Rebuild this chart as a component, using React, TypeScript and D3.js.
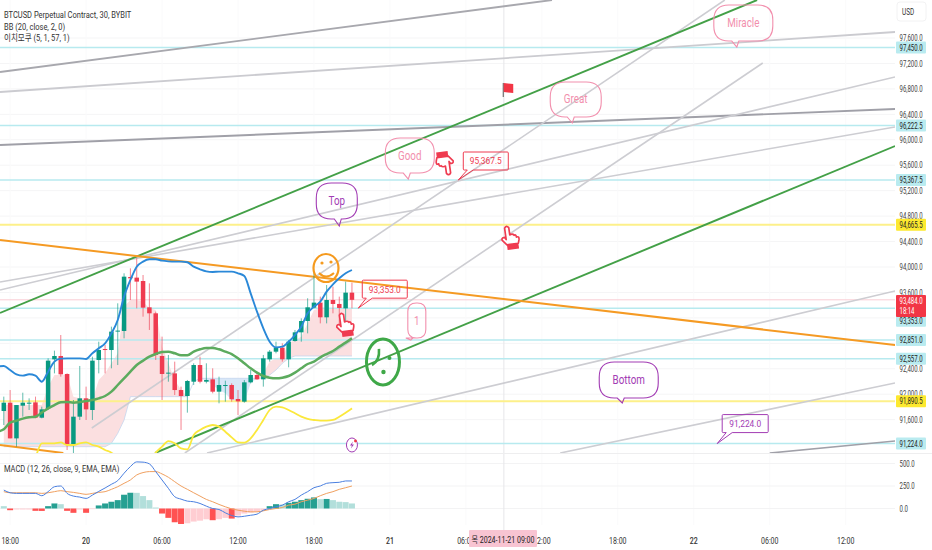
import React from "react";
import * as d3 from "d3";

const W = 932, H = 550;
const paneRight = 895, paneBottom = 453;

// [open, high, low, close] per 30-minute bar
const candles: number[][] = [
[91736,91962,91516,91867],[91867,92066,91306,91306],[91306,91830,91175,91830],[91820,92024,91647,91867],[91856,91935,91752,91867],
[91872,91962,91621,91631],[91631,91804,91621,91762],[91778,92564,91752,92528],[92549,92685,92328,92601],[92601,92931,92276,92313],
[92318,92328,91123,91217],[91217,91909,91071,91647],[91647,92444,91595,91935],[91935,92119,91595,91762],[91752,92590,91595,92528],
[92538,92826,92328,92695],[92711,92774,92328,92695],[92695,93062,92407,92984],[92989,93429,92459,93000],[92994,93901,92879,93848],
[93843,93979,93481,93822],[93833,94137,93350,93770],[93780,93874,93219,93361],[93366,93743,93010,93272],[93272,93298,92538,92617],
[92601,92905,91909,92318],[92328,92617,92197,92339],[92328,92512,91988,92066],[92066,92119,91438,91972],[91972,92224,91710,92208],
[92197,92486,92145,92459],[92459,92590,92171,92197],[92197,92486,92171,92224],[92234,92407,92014,92040],[92040,92276,91857,92145],
[92129,92213,91883,92145],[92145,92171,91883,91920],[91925,92066,91673,91888],[91883,92224,91867,92187],[92187,92381,92171,92302],
[92302,92328,92224,92234],[92234,92617,92119,92564],[92549,92695,92512,92669],[92669,92826,92643,92732],[92732,92800,92512,92549],
[92549,92852,92423,92826],[92837,93010,92826,92973],[92973,93193,92826,93151],[93151,93508,92957,93366],[93361,93901,93350,93440],
[93440,93534,93114,93209],[93209,93717,93114,93481],[93481,93691,93272,93419],[93419,93534,93010,93356],[93350,93770,93062,93597],
[93597,93754,93350,93484],
];

// The band series start one bar before the first candle
const bbUpper = [92433,92444,92381,92313,92292,92313,92292,92197,92355,92512,92559,92564,92564,92564,92554,92643,92721,92800,92957,93167,93534,93796,94005,94084,94121,94121,94100,94089,94084,94084,94074,94005,93964,93932,93922,93927,93927,93927,93901,93859,93586,93298,93036,92826,92737,92748,92826,92931,93062,93272,93377,93455,93612,93728,93822,93901,93953];
const bbMiddle = [91411,91448,91553,91584,91616,91637,91647,91710,91778,91830,91872,91878,91867,91878,91893,91909,91935,91972,92040,92145,92250,92355,92459,92528,92590,92632,92664,92669,92643,92611,92611,92669,92706,92727,92727,92706,92669,92632,92564,92486,92407,92339,92286,92260,92250,92260,92286,92339,92407,92475,92512,92580,92632,92680,92748,92811,92879];
const bbLower = [90900,90900,90900,90900,90900,90900,91018,91228,91228,91228,91243,91202,91202,91228,91243,91202,91175,91123,91081,90992,90800,90700,90700,90800,90950,91081,91175,91264,91228,91149,91133,91359,91438,91490,91516,91490,91411,91322,91243,91238,91306,91438,91595,91752,91804,91794,91752,91700,91647,91611,91595,91584,91584,91595,91647,91710,91778];

const spanA = [91830,91830,91830,91830,91830,91830,91830,92119,92302,92302,92302,91962,91935,91935,91909,92224,92328,92486,92643,93377,93481,93481,93455,93350,93324,92748,92486,92224,92066,91962,92197,92239,92224,92145,92066,92014,91909,91883,91883,92171,92250,92328,92512,92564,92590,92800,92852,92905,93114,93324,93350,93350,93350,93350,93350,93350];
const spanB = [91175,91175,91175,91175,91175,91175,91175,91175,91175,91175,91175,91175,91175,91175,91175,91175,91175,91228,91385,91595,91962,91962,91962,91962,91962,91962,91962,91962,91962,91962,92197,92250,92250,92250,92250,92250,92250,92250,92250,92250,92250,92250,92302,92381,92486,92564,92601,92601,92601,92601,92601,92601,92601,92601,92601,92601];

const macdLine = [205,175,168,168,168,168,142,187,242,250,168,138,127,112,149,190,228,269,310,392,466,518,515,496,410,317,224,131,104,82,75,56,26,0,-11,-48,-78,-93,-86,-75,-63,-19,0,19,37,75,101,149,187,231,250,280,287,291,306,306];
const signalLine = [187,175,175,175,175,175,168,175,187,198,187,179,168,157,168,179,187,213,242,280,317,373,399,410,410,384,347,298,250,213,175,138,101,75,45,19,-4,-19,-30,-37,-37,-26,-11,0,11,37,48,75,93,112,142,168,187,213,231,250];
const macdHist = [26,-19,-11,-11,-11,-26,-27,26,56,48,-26,-48,-11,-48,-7,34,56,75,93,153,175,174,138,93,11,-56,-104,-153,-172,-164,-145,-135,-120,-130,-119,-104,-112,-78,-56,-45,-37,-19,26,48,45,63,75,93,108,123,104,106,93,75,71,56];

const priceTicks = [97600,97200,96800,96400,96000,95600,95200,94800,94400,94000,93600,92400,92000,91600];
const gridOnlyTicks = [93200,92800];
const macdTicks = [500,250,0];
const timeTicks: [number,string,boolean][] = [[1,"18:00",false],[13,"20",true],[25,"06:00",false],[37,"12:00",false],[49,"18:00",false],[61,"21",true],[73,"06:00",false],[85,"12:00",false],[97,"18:00",false],[109,"22",true],[121,"06:00",false],[133,"12:00",false]];

const cyanLevels = [97450,96222.5,95367.5,93353,92851,92557,91224];
const yellowLevels = [94665.5,91890.5];
const lastPrice = 93484;

// [bar1, price1, bar2, price2, colour, width]
const trendLines: [number,number,number,number,string,number][] = [
[-0.6,97065,86.6,98197,"#a8a8ae",1.8],
[-0.6,96751,140.8,97694,"#cbcbd0",1.8],
[-0.6,95918,140.8,96484,"#a0a0a8",1.9],
[-0.6,93638,140.8,96987,"#cdcdd2",1.6],
[-0.6,93764,140.8,96201,"#cdcdd2",1.6],
[13.9,91469,113.9,98197,"#cdcdd2",1.6],
[28.6,91076,119.9,97207,"#cdcdd2",1.6],
[32.1,91076,140.8,93623,"#cdcdd2",1.6],
[87.9,91076,140.8,92176,"#cdcdd2",1.6],
[121,91076,140.8,91265,"#a0a0a8",1.7],
[-0.6,93277,119,98197,"#43a047",1.9],
[23.9,91076,140.8,95902,"#43a047",1.9],
[-0.6,94424,140.8,92774,"#f59a23",2],
[-0.6,91202,9.4,91076,"#f59a23",2],
];

const pink = "#f28fad", purple = "#a23cb4", red = "#ef3b50";
// [label, bar, price, x0, x1, y0, y1, colour] box offsets are px from the tip
const bubbles: [string,number,number,number,number,number,number,string][] = [
["Top",53,94645,-23,18,-43,-7,purple],
["Good",63.9,95383,-23,26,-41,-6,pink],
["Great",89.8,96264,-22,29,-41,-6,pink],
["Miracle",115.8,97458,-23,36,-42,-6,pink],
["Bottom",97.7,91862,-23,36,-41,-5,purple],
["1",64.3,92852,-3,15,-37,-2,pink],
];
const notes: [string,number,number,number,number,number,number,string][] = [
["95,367.5",71.8,95367.5,5,50,-28,-10,red],
["93,353.0",56,93353,4,49,-28,-10,red],
["91,224.0",112.7,91224,5,51,-29,-11,purple],
];
const hands: [number,number,boolean][] = [[69.7,95635,true],[80,94456,false],[53.9,93088,false]];

const x = d3.scaleLinear().domain([0,55]).range([3.8,3.8+55*6.33]);
const y = d3.scaleLinear().domain([94000,97600]).range([267,38]);
const ym = d3.scaleLinear().domain([0,500]).range([508.5,463.5]);

const FONT = "Roboto, 'Noto Sans CJK KR', sans-serif";

function T({px,py,s,size=9,sx=0.75,fill="#333",anchor="start",weight=400}:{px:number,py:number,s:string,size?:number,sx?:number,fill?:string,anchor?:string,weight?:number}) {
  return <text transform={`translate(${px},${py}) scale(${sx},1)`} fontFamily={FONT} fontSize={size} fill={fill} textAnchor={anchor as any} fontWeight={weight}>{s}</text>;
}

function bubblePath(tx:number,ty:number,x0:number,x1:number,y0:number,y1:number,r:number) {
  const L=tx+x0,R=tx+x1,Tp=ty+y0,B=ty+y1;
  return `M${L+r},${Tp}H${R-r}Q${R},${Tp} ${R},${Tp+r}V${B-r}Q${R},${B} ${R-r},${B}H${tx+2}L${tx},${ty}L${tx-5},${B}H${L+r}Q${L},${B} ${L},${B-r}V${Tp+r}Q${L},${Tp} ${L+r},${Tp}Z`;
}
function notePath(tx:number,ty:number,x0:number,x1:number,y0:number,y1:number) {
  const L=tx+x0,R=tx+x1,Tp=ty+y0,B=ty+y1;
  return `M${L+1},${Tp}H${R-1}Q${R},${Tp} ${R},${Tp+1}V${B-1}Q${R},${B} ${R-1},${B}H${L+10}L${tx},${ty}L${L+4},${B}H${L+1}Q${L},${B} ${L},${B-1}V${Tp+1}Q${L},${Tp} ${L+1},${Tp}Z`;
}

function Hand({bar,price,down}:{bar:number,price:number,down:boolean}) {
  return (
    <g transform={`translate(${x(bar)},${y(price)}) rotate(${down?172:-8}) scale(1.05)`}>
      <path d="M-4,-10 Q-2,-13 0,-10 L0,-3 Q3,-4 4,-2 Q6,-3 6,0 Q9,-1 8,3 L7,6 L-4,6 L-8,1 Q-8,-2 -5,-1 L-4,1 Z" fill="#fff" stroke={red} strokeWidth={1.6} strokeLinejoin="round"/>
      <rect x={-4} y={6} width={11} height={5} fill={red}/>
    </g>
  );
}

export default function App() {
  const barW = 4.5;
  const upC = "#089981", dnC = "#ef3b50";
  const lineFrom = (arr:number[]) => d3.line<number>().x((_,i)=>x(i-1)).y(d=>y(d)).curve(d3.curveMonotoneX)(arr) as string;
  const idx = spanA.map((_,i)=>i);
  const areaOf = (keep:(i:number)=>boolean) => d3.area<number>().defined(keep).x(i=>x(i)).y0(i=>y(spanB[i])).y1(i=>y(spanA[i]))(idx) as string;
  const macdPath = (arr:number[]) => d3.line<number>().x((_,i)=>x(i)).y(d=>ym(d)).curve(d3.curveMonotoneX)(arr) as string;
  const histColor = (i:number) => {
    const v=macdHist[i], p=i>0?macdHist[i-1]:v+1;
    if (v>=0) return v>=p?"#26a092":"#b2dfdb";
    return v<p?"#ff5252":"#ffcdd2";
  };
  const tag = (p:number, fill:string, dy=0) => (
    <g key={p}>
      <rect x={896} y={y(p)+dy-6} width={30} height={12} fill={fill} rx={1}/>
      <T px={899.5} py={y(p)+dy+3.2} s={d3.format(",.1f")(p)} sx={0.67} fill="#222"/>
    </g>
  );
  return (
    <svg width={W} height={H} viewBox={`0 0 ${W} ${H}`} style={{position:"absolute",left:0,top:0,background:"#fff"}}>
      <defs>
        <clipPath id="main"><rect x={0} y={0} width={paneRight} height={paneBottom}/></clipPath>
      </defs>
      <rect width={W} height={H} fill="#fff"/>

      {/* grid */}
      {[...priceTicks,...gridOnlyTicks].map(p=><line key={p} x1={0} x2={paneRight} y1={y(p)} y2={y(p)} stroke="#f5f5f6"/>)}
      {timeTicks.map(([b])=><line key={b} x1={x(b)} x2={x(b)} y1={0} y2={525} stroke="#fafafb"/>)}
      {macdTicks.map(v=><line key={v} x1={0} x2={paneRight} y1={ym(v)} y2={ym(v)} stroke="#f3f3f4"/>)}
      <line x1={x(79)} x2={x(79)} y1={0} y2={530} stroke="#e6e6e9"/>
      <line x1={0} x2={W} y1={paneBottom+0.5} y2={paneBottom+0.5} stroke="#eeeeef"/>

      <g clipPath="url(#main)">
        {/* cloud */}
        <path d={areaOf(i=>i<=30||i>=40)} fill="#fbdfe0"/>
        <path d={areaOf(i=>i>=30&&i<=40)} fill="#d8e7f8"/>
        <path d={d3.line<number>().x(i=>x(i)).y(i=>y(spanB[i]))(idx) as string} fill="none" stroke="#c5d5ee" strokeWidth={0.8}/>

        {/* levels */}
        <line x1={0} x2={paneRight} y1={y(lastPrice)} y2={y(lastPrice)} stroke="#f9ccd4" strokeWidth={1}/>
        {cyanLevels.map(p=><line key={p} x1={0} x2={paneRight} y1={y(p)} y2={y(p)} stroke="#b7eaef" strokeWidth={1.5}/>)}
        {yellowLevels.map(p=><line key={p} x1={0} x2={paneRight} y1={y(p)} y2={y(p)} stroke="#fdf08a" strokeWidth={2}/>)}

        {/* trend lines behind candles */}
        {trendLines.map((t,i)=><line key={i} x1={x(t[0])} y1={y(t[1])} x2={x(t[2])} y2={y(t[3])} stroke={t[4]} strokeWidth={t[5]}/>)}

        {/* candles */}
        {candles.map((c,i)=>{
          const [o,h,l,cl]=c; const col=cl>=o?upC:dnC;
          return <g key={i}>
            <line x1={x(i)} x2={x(i)} y1={y(h)} y2={y(l)} stroke={col} strokeWidth={0.9} opacity={0.7}/>
            <rect x={x(i)-barW/2} width={barW} y={y(Math.max(o,cl))} height={Math.max(1,Math.abs(y(o)-y(cl)))} fill={col}/>
          </g>;
        })}

        {/* indicators */}
        <path d={lineFrom(bbLower)} fill="none" stroke="#fbe83c" strokeWidth={1.8}/>
        <path d={lineFrom(bbMiddle)} fill="none" stroke="#5cab5e" strokeWidth={2.5}/>
        <path d={lineFrom(bbUpper)} fill="none" stroke="#2a88d8" strokeWidth={1.9}/>

        {/* bubbles */}
        {bubbles.map(([s,b,p,x0,x1,y0,y1,c])=>{
          const tx=x(b),ty=y(p);
          const r=Math.min(15,(x1-x0)/2-0.5);
          return <g key={s}>
            <path d={bubblePath(tx,ty,x0,x1,y0,y1,r)} fill="none" stroke={c} strokeWidth={1.1}/>
            <T px={tx+(x0+x1)/2} py={ty+(y0+y1)/2+4} s={s} size={12} sx={0.82} fill={c} anchor="middle"/>
          </g>;
        })}
        {notes.map(([s,b,p,x0,x1,y0,y1,c])=>{
          const tx=x(b),ty=y(p);
          return <g key={s}>
            <path d={notePath(tx,ty,x0,x1,y0,y1)} fill="none" stroke={c} strokeWidth={1}/>
            <T px={tx+(x0+x1)/2} py={ty+(y0+y1)/2+3.4} s={s} size={9.5} sx={0.88} fill={c} anchor="middle"/>
          </g>;
        })}

        {/* icons */}
        {hands.map(([b,p,d],i)=><Hand key={i} bar={b} price={p} down={d}/>)}
        <g transform={`translate(${x(78.9)},${y(96814)})`}>
          <line x1={0} x2={0} y1={-5} y2={9} stroke="#555" strokeWidth={1}/>
          <path d="M0.5,-5 L10,-4 L10,5 L0.5,4 Z" fill="#f23645"/>
        </g>
        <g transform={`translate(${x(50.9)},${y(93984)})`} fill="none" stroke="#f59a1e">
          <ellipse rx={12.5} ry={14} strokeWidth={2.2}/>
          <circle cx={-4} cy={-5} r={1.6} fill="#f59a1e" stroke="none"/>
          <circle cx={5} cy={-6} r={1.6} fill="#f59a1e" stroke="none"/>
          <path d="M-7,5 Q0,12 8,5" strokeWidth={2}/>
        </g>
        <g transform={`translate(${x(59.9)},${y(92507)})`} fill="none" stroke="#3fa848">
          <ellipse rx={16.5} ry={23} strokeWidth={3}/>
          <path d="M-4,-13 Q-3,-1 -11,3" strokeWidth={2.6}/>
          <circle cx={0.5} cy={10} r={2.2} fill="#3fa848" stroke="none"/>
          <circle cx={6.5} cy={-4} r={2} fill="#3fa848" stroke="none"/>
        </g>
        <g transform={`translate(${x(55)},${y(91202)})`}>
          <ellipse rx={5.5} ry={7} fill="#fff" stroke={purple} strokeWidth={1}/>
          <path d="M1,-3.5 L-2,0.5 L0,0.5 L-1,3.5 L2,-0.5 L0,-0.5 Z" fill={purple}/>
          <circle cx={3.5} cy={-4} r={1.4} fill="#f23645"/>
        </g>
      </g>

      {/* MACD pane */}
      {macdHist.map((v,i)=>(
        <rect key={i} x={x(i)-3} width={6} y={Math.min(ym(v),ym(0))} height={Math.max(0.6,Math.abs(ym(v)-ym(0)))} fill={histColor(i)}/>
      ))}
      <path d={macdPath(signalLine)} fill="none" stroke="#f0a060" strokeWidth={1}/>
      <path d={macdPath(macdLine)} fill="none" stroke="#4a7fe0" strokeWidth={1}/>

      {/* legends */}
      <T px={4} py={18} s="BTCUSD Perpetual Contract, 30, BYBIT" size={9.5} sx={0.79}/>
      <T px={4} py={29.5} s="BB (20, close, 2, 0)" size={9.5} sx={0.79}/>
      <T px={4} py={41} s="이치모쿠 (5, 1, 57, 1)" size={9.5} sx={0.79}/>
      <T px={4} py={472} s="MACD (12, 26, close, 9, EMA, EMA)" size={9.5} sx={0.79}/>

      {/* time axis */}
      {timeTicks.map(([b,s,bold])=><T key={b} px={x(b)} py={543.5} s={s} anchor="middle" sx={0.78} size={9} weight={bold?500:400}/>)}
      <rect x={469} y={530} width={68} height={17} fill="#f8c4d2" rx={1}/>
      <T px={503} py={543} s="목 2024-11-21  09:00" anchor="middle" sx={0.78} size={9} fill="#222"/>

      {/* price axis */}
      <rect x={897} y={2} width={29} height={19} rx={3} fill="#fff" stroke="#f2f2f3"/>
      <T px={902} py={15} s="USD" sx={0.75} size={8.5} fill="#333"/>
      {priceTicks.map(p=><T key={p} px={899.5} py={y(p)+3.2} s={d3.format(",.1f")(p)} sx={0.67} fill="#444"/>)}
      {macdTicks.map(v=><T key={v} px={899.5} py={ym(v)+3.2} s={d3.format(".1f")(v)} sx={0.67} fill="#444"/>)}
      {[97450,96222.5,95367.5,92851,92557,91224].map(p=>tag(p,"#b9ebf0"))}
      {tag(93353,"#b9ebf0",12.5)}
      {yellowLevels.map(p=>tag(p,"#fde92f"))}
      <rect x={896} y={295} width={30} height={22} fill="#f23645" rx={1}/>
      <T px={899.5} py={304} s={d3.format(",.1f")(lastPrice)} sx={0.67} fill="#fff"/>
      <T px={899.5} py={314} s="18:14" sx={0.67} fill="#fff"/>
    </svg>
  );
}
